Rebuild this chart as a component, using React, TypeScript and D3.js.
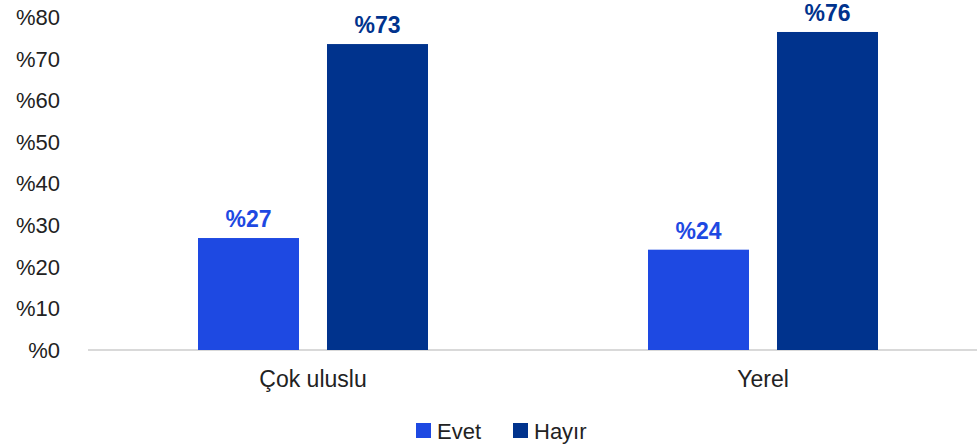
import React from "react";
import * as d3 from "d3";

const categories = ["Çok uluslu", "Yerel"];
const seriesNames = ["Evet", "Hayır"];
const evet = [26.9, 24.1];
const hayir = [73.5, 76.4];
const evetLabels = ["%27", "%24"];
const hayirLabels = ["%73", "%76"];
const yTicks = [0, 10, 20, 30, 40, 50, 60, 70, 80];
const colors = ["#1E49E2", "#00338D"];

export default function App() {
  const W = 977, H = 446;
  const font = "'Liberation Sans', Arial, sans-serif";
  const x0 = d3.scaleBand<string>().domain(categories).range([88, 988]).padding(0);
  const x1 = d3.scaleBand<string>().domain(seriesNames).range([0, 230]).paddingInner(0.217);
  const y = d3.scaleLinear().domain([0, 80]).range([350, 17]);
  const data = [evet, hayir];
  const labels = [evetLabels, hayirLabels];
  return (
    <svg width={W} height={H} style={{ position: "absolute", left: 0, top: 0, fontFamily: font }}>
      {yTicks.map((t) => (
        <text key={t} x={60} y={y(t)} dy="0.36em" textAnchor="end" fontSize={22} fill="#222">
          {"%" + t}
        </text>
      ))}
      <line x1={88} x2={977} y1={350} y2={350} stroke="#d9d9d9" strokeWidth={2} />
      {categories.map((c, ci) => {
        const gx = (x0(c) as number) + x0.bandwidth() / 2 - 115;
        return (
          <g key={c}>
            {seriesNames.map((s, si) => {
              const v = data[si][ci];
              const bx = gx + (x1(s) as number);
              return (
                <g key={s}>
                  <rect x={bx} y={y(v)} width={x1.bandwidth()} height={y(0) - y(v)} fill={colors[si]} />
                  <text x={bx + x1.bandwidth() / 2} y={y(v) - 11} textAnchor="middle" fontSize={23} fontWeight="bold" fill={colors[si]}>
                    {labels[si][ci]}
                  </text>
                </g>
              );
            })}
            <text x={(x0(c) as number) + x0.bandwidth() / 2} y={387} textAnchor="middle" fontSize={23} fill="#222">
              {c}
            </text>
          </g>
        );
      })}
      {seriesNames.map((s, si) => {
        const lx = 416 + si * 97;
        return (
          <g key={s}>
            <rect x={lx} y={423} width={15} height={15} fill={colors[si]} />
            <text x={lx + 21} y={439} fontSize={22} fill="#222">{s}</text>
          </g>
        );
      })}
    </svg>
  );
}
